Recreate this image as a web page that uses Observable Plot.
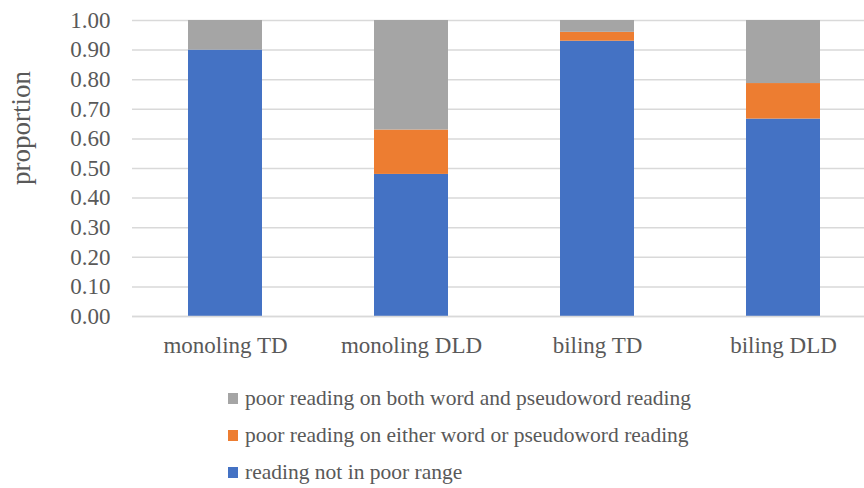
<!DOCTYPE html>
<html>
<head>
<meta charset="utf-8">
<script src="https://cdn.jsdelivr.net/npm/d3@7"></script>
<script src="https://cdn.jsdelivr.net/npm/@observablehq/plot@0.6"></script>
<style>
  html, body { margin: 0; padding: 0; background: #fff; }
  #wrap { position: relative; width: 864px; height: 488px; font-family: "Liberation Serif", serif; color: #595959; }
  #wrap svg, #wrap svg text { font-family: "Liberation Serif", serif !important; }
  #ylabel { position: absolute; left: 21px; top: 128px; transform: translate(-50%, -50%) rotate(-90deg); font-family: "Liberation Serif", serif; font-size: 27px; white-space: nowrap; color: #595959; }
  #legend { position: absolute; left: 228px; top: 380px; font-family: "Liberation Serif", serif; font-size: 21.5px; }
  .row { display: flex; align-items: center; height: 37px; font-family: "Liberation Serif", serif; }
  .sw { width: 10px; height: 11px; margin-right: 7px; flex: none; }
</style>
</head>
<body>
<div id="wrap">
  <div id="chart"></div>
  <div id="ylabel">proportion</div>
  <div id="legend"></div>
</div>
<script>
const categories = ["monoling TD", "monoling DLD", "biling TD", "biling DLD"];
const seriesNames = [
  "reading not in poor range",
  "poor reading on either word or pseudoword reading",
  "poor reading on both word and pseudoword reading"
];
const seriesColors = ["#4472C4", "#ED7D31", "#A5A5A5"];
const notPoor = [0.90, 0.48, 0.93, 0.667];
const eitherPoor = [0.00, 0.15, 0.03, 0.12];
const bothPoor = [0.10, 0.37, 0.04, 0.213];
const yTicks = [0, 0.1, 0.2, 0.3, 0.4, 0.5, 0.6, 0.7, 0.8, 0.9, 1.0];

const seriesValues = [notPoor, eitherPoor, bothPoor];
const data = [];
seriesNames.forEach((s, si) => {
  categories.forEach((c, ci) => {
    data.push({category: c, series: s, value: seriesValues[si][ci]});
  });
});

const serif = "'Liberation Serif', serif";
const chart = Plot.plot({
  width: 864,
  height: 370,
  marginLeft: 132,
  marginRight: 0,
  marginTop: 20,
  marginBottom: 54,
  style: {fontFamily: serif, fontSize: "23px", color: "#595959", background: "#fff"},
  x: {domain: categories, range: [132, 876], paddingInner: 0.6, paddingOuter: 0.3, label: null},
  y: {domain: [0, 1], label: null},
  color: {domain: seriesNames, range: seriesColors},
  marks: [
    Plot.gridY(yTicks, {stroke: "#d9d9d9", strokeOpacity: 1, strokeWidth: 1.5}),
    Plot.barY(data, Plot.stackY({order: seriesNames, x: "category", y: "value", fill: "series"})),
    Plot.ruleY([0], {stroke: "#d9d9d9", strokeWidth: 1.5}),
    Plot.axisY({ticks: yTicks, tickFormat: d3.format(".2f"), tickSize: 0, tickPadding: 22, label: null, fill: "#595959", fontSize: 23, fontFamily: serif}),
    Plot.axisX({tickSize: 0, tickPadding: 20, label: null, fill: "#595959", fontSize: 23, fontFamily: serif})
  ]
});
document.getElementById("chart").appendChild(chart);

const legend = document.getElementById("legend");
[2, 1, 0].forEach(i => {
  const row = document.createElement("div");
  row.className = "row";
  const sw = document.createElement("span");
  sw.className = "sw";
  sw.style.background = seriesColors[i];
  const t = document.createElement("span");
  t.textContent = seriesNames[i];
  row.appendChild(sw);
  row.appendChild(t);
  legend.appendChild(row);
});
</script>
</body>
</html>
